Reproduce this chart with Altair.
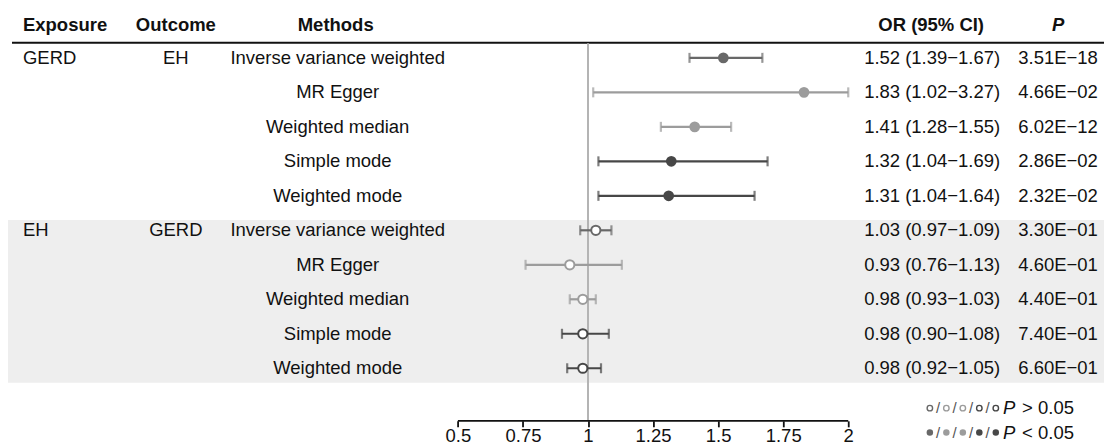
import altair as alt
import pandas as pd

# ---------------- data ----------------
methods = ["Inverse variance weighted", "MR Egger", "Weighted median", "Simple mode", "Weighted mode"]
method_colors = ["#686868", "#9c9c9c", "#9c9c9c", "#474747", "#474747"]
exposures = ["GERD", "EH"]
outcomes = ["EH", "GERD"]

or_gerd_eh = [1.52, 1.83, 1.41, 1.32, 1.31]
lo_gerd_eh = [1.39, 1.02, 1.28, 1.04, 1.04]
hi_gerd_eh = [1.67, 3.27, 1.55, 1.69, 1.64]
p_gerd_eh = [3.51e-18, 4.66e-02, 6.02e-12, 2.86e-02, 2.32e-02]

or_eh_gerd = [1.03, 0.93, 0.98, 0.98, 0.98]
lo_eh_gerd = [0.97, 0.76, 0.93, 0.90, 0.92]
hi_eh_gerd = [1.09, 1.13, 1.03, 1.08, 1.05]
p_eh_gerd = [3.30e-01, 4.60e-01, 4.40e-01, 7.40e-01, 6.60e-01]

axis_ticks = [0.5, 0.75, 1, 1.25, 1.5, 1.75, 2]
axis_min, axis_max = 0.5, 2
ref_value = 1
headers = ["Exposure", "Outcome", "Methods", "OR (95% CI)", "P"]
legend_labels = ["> 0.05", "< 0.05"]

# ---------------- layout ----------------
W, H = 1097, 413
FONT = "Liberation Sans"
FS = 18.5
X = alt.Scale(domain=[-1.2288, 2.9828], nice=False, zero=False)
Y = alt.Scale(domain=[-1.44, 10.524], reverse=True, nice=False, zero=False)
X_AXIS = alt.Axis(values=axis_ticks, labelExpr="datum.value + ''", domain=False, grid=False,
                  ticks=True, tickSize=6, tickWidth=1.8, tickColor="#111",
                  labelFont=FONT, labelFontSize=FS, labelColor="#111", labelPadding=0,
                  labelFlush=False, labelOverlap=False, title=None)


def fmt_p(v):
    s = f"{v:.2E}"
    mant, ex = s.split("E")
    sign = "\u2212" if ex[0] == "-" else ""
    return f"{mant}E{sign}{ex[1:]}"


rows = []
groups = [(exposures[0], outcomes[0], or_gerd_eh, lo_gerd_eh, hi_gerd_eh, p_gerd_eh),
          (exposures[1], outcomes[1], or_eh_gerd, lo_eh_gerd, hi_eh_gerd, p_eh_gerd)]
r = 0
for exp, out, ors, los, his, ps in groups:
    for i, m in enumerate(methods):
        rows.append(dict(
            row=r,
            exposure=exp if i == 0 else "",
            outcome=out if i == 0 else "",
            method=m,
            color=method_colors[i],
            OR=ors[i], lo=los[i], hi=his[i],
            lo_d=max(los[i], axis_min), hi_d=min(his[i], axis_max),
            ortext=f"{ors[i]:.2f} ({los[i]:.2f}\u2212{his[i]:.2f})",
            ptext=fmt_p(ps[i]),
            sig=ps[i] < 0.05,
        ))
        r += 1
df = pd.DataFrame(rows)
one = pd.DataFrame([{"k": 0}])

base = alt.Chart(df)
ycode = alt.Y("row:Q", scale=Y, axis=None)

band = alt.Chart(one).mark_rect(color="#eeeeee").encode(
    x=alt.value(0), x2=alt.value(W), y=alt.value(212), y2=alt.value(375))

head_rule = alt.Chart(one).mark_rule(color="#111", strokeWidth=2).encode(
    x=alt.value(4), x2=alt.value(W), y=alt.value(34.7))

ref_line = alt.Chart(pd.DataFrame({"v": [ref_value]})).mark_rule(color="#b4b4b4", strokeWidth=2).encode(
    x=alt.X("v:Q", scale=X, axis=X_AXIS), y=alt.value(35), y2=alt.value(H))

axis_line = alt.Chart(pd.DataFrame({"a": [axis_min], "b": [axis_max]})).mark_rule(color="#111", strokeWidth=1.8).encode(
    x=alt.X("a:Q", scale=X, axis=X_AXIS), x2="b:Q", y=alt.value(H))

ci = base.mark_rule(strokeWidth=2.2).encode(
    x=alt.X("lo_d:Q", scale=X, axis=X_AXIS), x2="hi_d:Q", y=ycode,
    color=alt.Color("color:N", scale=None))

cap_lo = base.mark_tick(orient="vertical", size=10, thickness=2.2).encode(
    x=alt.X("lo_d:Q", scale=X, axis=X_AXIS), y=ycode, color=alt.Color("color:N", scale=None))
cap_hi = base.mark_tick(orient="vertical", size=10, thickness=2.2).encode(
    x=alt.X("hi_d:Q", scale=X, axis=X_AXIS), y=ycode, color=alt.Color("color:N", scale=None))

pts_sig = base.transform_filter("datum.sig").mark_point(filled=True, size=115, opacity=1, shape="circle").encode(
    x=alt.X("OR:Q", scale=X, axis=X_AXIS), y=ycode, color=alt.Color("color:N", scale=None))
pts_ns = base.transform_filter("!datum.sig").mark_point(filled=True, fill="white", size=85, strokeWidth=2,
                                                          opacity=1, shape="circle").encode(
    x=alt.X("OR:Q", scale=X, axis=X_AXIS), y=ycode, stroke=alt.Stroke("color:N", scale=None))


def col_text(field, xpx, align):
    return base.mark_text(font=FONT, fontSize=FS, align=align, baseline="middle", color="#111").encode(
        x=alt.value(xpx), y=ycode, text=f"{field}:N")


t_exp = col_text("exposure", 15, "left")
t_out = col_text("outcome", 168, "center")
t_met = col_text("method", 330, "center")
t_or = col_text("ortext", 925, "center")
t_p = col_text("ptext", 1051, "center")


def head_text(i, xpx, align, style="normal"):
    return alt.Chart(pd.DataFrame({"t": [headers[i]]})).mark_text(
        font=FONT, fontSize=FS, fontWeight="bold", fontStyle=style, align=align, baseline="middle",
        color="#111").encode(x=alt.value(xpx), y=alt.value(17), text="t:N")


h = [head_text(0, 15, "left"), head_text(1, 168, "center"), head_text(2, 328, "center"),
     head_text(3, 924, "center"), head_text(4, 1051, "center", "italic")]

# legend
leg_x0, leg_step = 922.7, 16.5
leg_rows = []
for j, ypx in enumerate([400.3, 424.7]):
    for i, c in enumerate(method_colors):
        leg_rows.append(dict(px=leg_x0 + i * leg_step, py=ypx, color=c, filled=j == 1,
                             slash="/" if i < len(method_colors) - 1 else ""))
leg = pd.DataFrame(leg_rows)
leg_open = alt.Chart(leg).transform_filter("!datum.filled").mark_point(
    filled=True, fill="white", size=30, strokeWidth=1.4, opacity=1, shape="circle").encode(
    x=alt.X("px:Q", scale=None), y=alt.Y("py:Q", scale=None), stroke=alt.Stroke("color:N", scale=None))
leg_fill = alt.Chart(leg).transform_filter("datum.filled").mark_point(
    filled=True, size=42, opacity=1, shape="circle").encode(
    x=alt.X("px:Q", scale=None), y=alt.Y("py:Q", scale=None), color=alt.Color("color:N", scale=None))
leg_slash = alt.Chart(leg).mark_text(font=FONT, fontSize=15, color="#555", baseline="middle").encode(
    x=alt.X("px:Q", scale=None), y=alt.Y("py:Q", scale=None), text="slash:N", xOffset=alt.value(8.2))
leg_txt_df = pd.DataFrame({"py": [400.3, 424.7], "t": legend_labels, "P": ["P", "P"]})
leg_P = alt.Chart(leg_txt_df).mark_text(font=FONT, fontSize=FS, fontStyle="italic", align="left",
                                        baseline="middle", color="#111").encode(
    x=alt.value(996), y=alt.Y("py:Q", scale=None), text="P:N")
leg_T = alt.Chart(leg_txt_df).mark_text(font=FONT, fontSize=FS, align="left", baseline="middle",
                                        color="#111").encode(
    x=alt.value(1015), y=alt.Y("py:Q", scale=None), text="t:N")

chart = alt.layer(
    band, head_rule, ref_line, axis_line, ci, cap_lo, cap_hi, pts_sig, pts_ns,
    t_exp, t_out, t_met, t_or, t_p, *h, leg_open, leg_fill, leg_slash, leg_P, leg_T
).properties(width=W, height=H, padding=0, background="white").configure_view(stroke=None)

chart.save("out.html", embed_options={"renderer": "svg", "actions": False})
